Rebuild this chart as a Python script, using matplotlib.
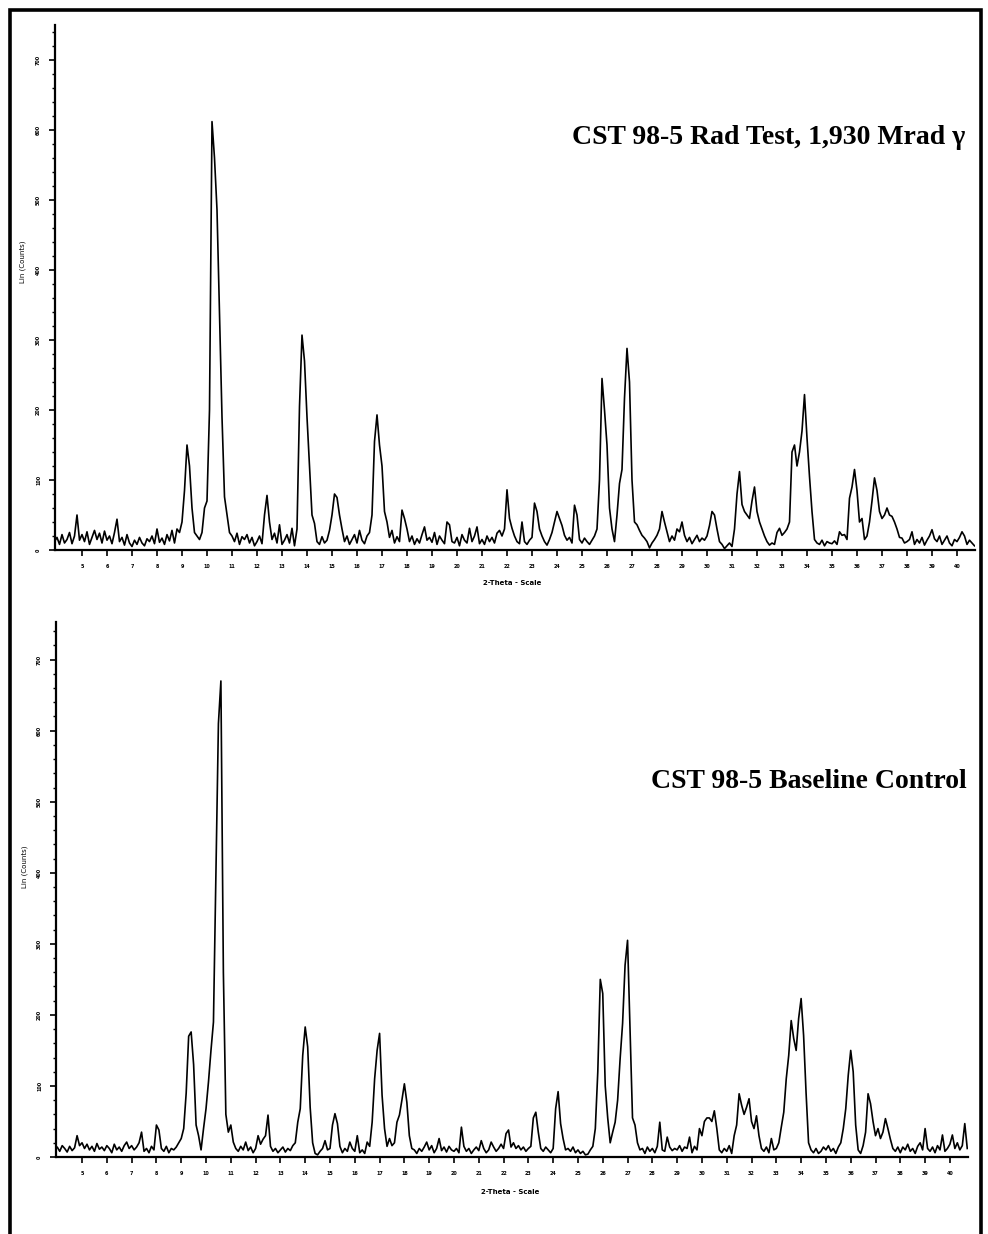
import numpy as np
import matplotlib
matplotlib.use("Agg")
import matplotlib.pyplot as plt
from matplotlib.patches import Rectangle
from matplotlib.ticker import MultipleLocator

THETA_START = 3.9
THETA_STEP = 0.1

# Rad test trace, Lin (Counts); first value is 3.9, then one row per degree
rad_counts = [12] + [
    18, 8, 22, 10, 15, 25, 9, 20, 50, 14,          # 4
    22, 12, 26, 8, 18, 28, 15, 24, 10, 27,         # 5
    14, 20, 9, 25, 44, 12, 18, 7, 22, 10,          # 6
    5, 14, 8, 18, 10, 6, 16, 12, 20, 9,            # 7
    30, 11, 17, 8, 22, 13, 28, 10, 30, 25,         # 8
    40, 85, 150, 120, 60, 25, 20, 15, 25, 60,      # 9
    70, 200, 612, 560, 486, 340, 190, 76, 50, 25,  # 10
    20, 12, 24, 8, 19, 15, 22, 10, 18, 6,          # 11
    12, 20, 9, 50, 78, 40, 15, 24, 10, 36,         # 12
    8, 14, 22, 10, 31, 6, 30, 205, 307, 270,       # 13
    190, 120, 50, 38, 12, 8, 19, 10, 14, 28,       # 14
    50, 80, 75, 50, 30, 12, 20, 8, 15, 22,         # 15
    10, 28, 14, 9, 20, 25, 50, 155, 193, 150,      # 16
    120, 55, 40, 18, 28, 10, 19, 12, 57, 45,       # 17
    30, 12, 20, 8, 16, 10, 22, 33, 14, 18,         # 18
    11, 25, 8, 20, 14, 9, 40, 36, 12, 10,          # 19
    18, 6, 22, 14, 10, 31, 12, 20, 33, 9,          # 20
    15, 8, 20, 12, 18, 10, 24, 28, 20, 30,         # 21
    86, 45, 31, 20, 12, 9, 40, 12, 8, 14,          # 22
    18, 67, 55, 30, 20, 12, 7, 15, 25, 40,         # 23
    55, 45, 35, 21, 14, 18, 10, 64, 50, 15,        # 24
    10, 17, 12, 8, 14, 20, 30, 100, 245, 200,      # 25
    150, 60, 30, 12, 50, 95, 115, 217, 288, 240,   # 26
    100, 40, 36, 28, 21, 17, 12, 3, 10, 15,        # 27
    21, 30, 55, 40, 26, 12, 20, 14, 30, 26,        # 28
    40, 21, 12, 18, 9, 15, 21, 12, 17, 14,         # 29
    20, 35, 55, 50, 30, 12, 8, 2, 6, 10,           # 30
    5, 30, 80, 112, 65, 55, 50, 45, 70, 90,        # 31
    55, 40, 30, 20, 12, 7, 10, 8, 25, 31,          # 32
    21, 25, 30, 40, 140, 150, 120, 140, 170, 222,  # 33
    160, 105, 55, 15, 10, 8, 14, 6, 12, 10,        # 34
    9, 13, 8, 26, 21, 22, 15, 74, 90, 115,         # 35
    85, 40, 45, 15, 20, 40, 70, 103, 85, 55,       # 36
    45, 50, 60, 50, 48, 40, 30, 18, 17, 10,        # 37
    12, 15, 26, 8, 15, 10, 18, 7, 14, 20,          # 38
    29, 16, 12, 20, 8, 14, 20, 10, 6, 15,          # 39
    12, 18, 26, 20, 8, 14, 10, 6,                  # 40
]

# Baseline control trace, Lin (Counts)
base_counts = [10] + [
    14, 8, 16, 12, 7, 15, 9, 13, 30, 16,           # 4
    20, 12, 18, 10, 15, 8, 19, 11, 14, 9,          # 5
    16, 12, 6, 18, 10, 14, 8, 16, 21, 12,          # 6
    16, 10, 14, 20, 35, 8, 12, 6, 15, 10,          # 7
    45, 38, 12, 8, 15, 6, 12, 10, 14, 20,          # 8
    26, 40, 90, 170, 176, 130, 45, 30, 10, 40,     # 9
    68, 106, 150, 190, 400, 610, 670, 260, 60, 35, # 10
    45, 21, 12, 8, 15, 10, 21, 9, 14, 6,           # 11
    12, 30, 18, 25, 30, 59, 15, 8, 12, 6,          # 12
    10, 14, 7, 12, 9, 16, 20, 49, 68, 143,         # 13
    183, 155, 70, 20, 5, 3, 8, 12, 23, 10,         # 14
    12, 45, 61, 47, 15, 6, 12, 8, 21, 12,          # 15
    8, 30, 6, 10, 5, 21, 15, 49, 110, 150,         # 16
    174, 87, 40, 15, 26, 16, 20, 49, 59, 80,       # 17
    103, 77, 30, 12, 10, 5, 12, 8, 14, 21,         # 18
    10, 16, 6, 12, 26, 9, 14, 7, 15, 10,           # 19
    8, 12, 6, 42, 15, 8, 12, 5, 10, 14,            # 20
    9, 23, 12, 6, 10, 21, 14, 8, 12, 18,           # 21
    12, 33, 38, 14, 20, 12, 16, 10, 14, 8,         # 22
    12, 15, 55, 63, 35, 12, 8, 14, 10, 6,          # 23
    12, 68, 92, 47, 26, 10, 12, 8, 14, 6,          # 24
    10, 5, 8, 3, 4, 10, 15, 40, 120, 250,          # 25
    230, 100, 55, 20, 35, 49, 80, 138, 188, 270,   # 26
    305, 180, 55, 45, 20, 10, 12, 5, 14, 8,        # 27
    12, 6, 15, 49, 10, 8, 28, 14, 9, 12,           # 28
    10, 16, 8, 14, 12, 28, 6, 15, 10, 40,          # 29
    30, 50, 55, 55, 50, 65, 40, 10, 6, 12,         # 30
    8, 16, 5, 30, 45, 89, 73, 60, 70, 82,          # 31
    50, 40, 58, 30, 12, 8, 14, 6, 26, 10,          # 32
    12, 20, 42, 63, 110, 143, 192, 167, 150, 195,  # 33
    223, 171, 90, 20, 10, 6, 12, 5, 8, 14,         # 34
    10, 16, 8, 12, 5, 14, 20, 40, 68, 115,         # 35
    150, 120, 45, 10, 5, 16, 35, 89, 75, 50,       # 36
    30, 40, 26, 35, 54, 40, 25, 12, 8, 14,         # 37
    6, 14, 10, 18, 8, 12, 5, 15, 20, 10,           # 38
    40, 12, 8, 14, 6, 16, 10, 31, 8, 12,           # 39
    18, 31, 12, 20, 10, 16, 47, 12,                # 40
]

x_ticks = list(range(5, 41))
y_ticks = list(range(0, 701, 100))

titles = ["CST 98-5 Rad Test, 1,930 Mrad \u03b3", "CST 98-5 Baseline Control"]
x_label = "2-Theta - Scale"
y_label = "Lin (Counts)"

W, H = 988, 1234
fig = plt.figure(figsize=(W / 100, H / 100), dpi=100)


def px_axes(left, top, right, bottom):
    return fig.add_axes([left / W, 1 - bottom / H, (right - left) / W, (bottom - top) / H])


def style_axes(ax, xlim, ylim):
    ax.set_xlim(*xlim)
    ax.set_ylim(*ylim)
    for side in ("top", "right"):
        ax.spines[side].set_visible(False)
    for side in ("left", "bottom"):
        ax.spines[side].set_linewidth(1.6)
    ax.set_xticks(x_ticks)
    ax.set_xticklabels([str(t) for t in x_ticks], fontsize=3.5, fontweight="bold")
    ax.set_yticks(y_ticks)
    ax.set_yticklabels([str(t) for t in y_ticks], fontsize=3.5, fontweight="bold",
                       rotation=90, va="center")
    ax.yaxis.set_minor_locator(MultipleLocator(20))
    ax.tick_params(axis="both", which="major", length=4, width=1.2, pad=6, direction="out")
    ax.tick_params(axis="y", which="minor", length=2.5, width=1.0, direction="out")
    ax.patch.set_alpha(0)


theta_rad = np.round(THETA_START + THETA_STEP * np.arange(len(rad_counts)), 2)
theta_base = np.round(THETA_START + THETA_STEP * np.arange(len(base_counts)), 2)

# top panel: rad test
ax1 = px_axes(55, 25, 975, 550)
ax1.plot(theta_rad, rad_counts, color="black", lw=1.2)
style_axes(ax1, (3.92, 40.72), (0, 750))

# bottom panel: baseline control
ax2 = px_axes(56, 622, 968, 1157)
ax2.plot(theta_base, base_counts, color="black", lw=1.2)
style_axes(ax2, (3.95, 40.73), (0, 753))

# axis titles
fig.text(23 / W, 1 - 262 / H, y_label, rotation=90, fontsize=5, ha="center", va="center")
fig.text(512 / W, 1 - 583 / H, x_label, fontsize=5, fontweight="bold", ha="center", va="center")
fig.text(25 / W, 1 - 867 / H, y_label, rotation=90, fontsize=5, ha="center", va="center")
fig.text(510 / W, 1 - 1192 / H, x_label, fontsize=5, fontweight="bold", ha="center", va="center")

# panel titles
fig.text(965 / W, 1 - 137 / H, titles[0], fontsize=20, fontweight="bold",
         family=["Liberation Serif", "DejaVu Serif"], ha="right", va="center")
fig.text(967 / W, 1 - 782 / H, titles[1], fontsize=20, fontweight="bold",
         family=["Liberation Serif", "DejaVu Serif"], ha="right", va="center")

# page frame from the scan
fig.add_artist(Rectangle((9.5 / W, -0.01), (981 - 9.5) / W, 1 - 9.5 / H + 0.01,
                         transform=fig.transFigure, fill=False, lw=2.6, ec="black"))

fig.savefig("out.png", dpi=100)
